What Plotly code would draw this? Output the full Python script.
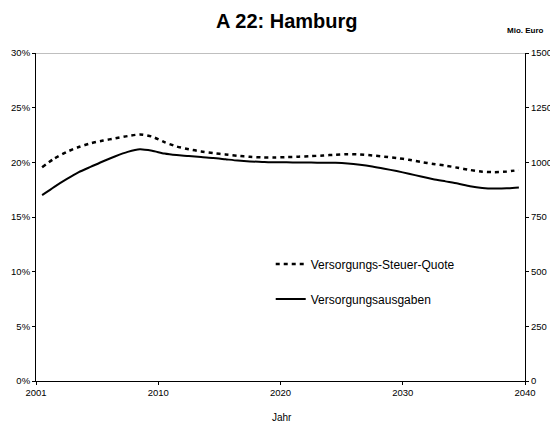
import plotly.graph_objects as go

years = list(range(2001, 2041))

# Versorgungs-Steuer-Quote (left axis, %)
quote = [19.55, 20.35, 20.95, 21.4, 21.75, 22.0, 22.2, 22.4, 22.55, 22.35,
         21.85, 21.45, 21.2, 21.0, 20.85, 20.72, 20.6, 20.5, 20.45, 20.45,
         20.48, 20.52, 20.57, 20.62, 20.7, 20.75, 20.72, 20.63, 20.52, 20.4,
         20.23, 20.03, 19.85, 19.7, 19.5, 19.3, 19.15, 19.1, 19.15, 19.3]

# Versorgungsausgaben (right axis, Mio. Euro)
ausgaben = [850, 888, 923, 955, 980, 1005, 1028, 1048, 1060, 1053,
            1040, 1033, 1029, 1024, 1020, 1014, 1008, 1004, 1002, 1000,
            1000, 999, 999, 998, 998, 995, 989, 981, 971, 960,
            948, 935, 923, 913, 903, 891, 883, 880, 881, 885]

left_ticks = [0, 5, 10, 15, 20, 25, 30]
left_labels = ["0%", "5%", "10%", "15%", "20%", "25%", "30%"]
right_ticks = [0, 250, 500, 750, 1000, 1250, 1500]
right_labels = ["0", "250", "500", "750", "1000", "1250", "1500"]
x_tickvals = [2000.5, 2010.5, 2020.5, 2030.5, 2040.5]
x_ticktext = ["2001", "2010", "2020", "2030", "2040"]

FONT = "Liberation Sans, Arial, sans-serif"

axis_common = dict(showline=True, linecolor="black", linewidth=1, showgrid=False,
                   zeroline=False, ticks="outside", ticklen=3, tickcolor="black",
                   automargin=False, tickfont=dict(family=FONT, size=9.5))

fig = go.Figure()
fig.add_trace(go.Scatter(
    x=years, y=quote, name="Versorgungs-Steuer-Quote", mode="lines",
    line=dict(color="black", width=2.5, dash="4px,4px", shape="spline", smoothing=0.6),
    legendgroup="a", yaxis="y"))
fig.add_trace(go.Scatter(
    x=years, y=ausgaben, name="Versorgungsausgaben", mode="lines",
    line=dict(color="black", width=2, shape="spline", smoothing=0.6),
    legendgroup="b", yaxis="y2"))

# The page adds an 8px body margin, so the figure is 8px smaller and offset.
fig.update_layout(
    width=550, height=415,
    margin=dict(l=28, r=33, t=45, b=42, autoexpand=False),
    paper_bgcolor="white", plot_bgcolor="white",
    font=dict(family=FONT, size=10, color="black"),
    showlegend=True,
    legend=dict(x=0.48, y=0.401, xanchor="left", yanchor="top",
                bgcolor="rgba(0,0,0,0)", font=dict(family=FONT, size=12),
                tracegroupgap=16, itemwidth=30),
    xaxis=dict(range=[2000.5, 2040.5], tickvals=x_tickvals, ticktext=x_ticktext,
               **axis_common),
    yaxis=dict(range=[0, 30], tickvals=left_ticks, ticktext=left_labels, **axis_common),
    yaxis2=dict(range=[0, 1500], tickvals=right_ticks, ticktext=right_labels,
                overlaying="y", side="right", **axis_common),
    shapes=[dict(type="line", xref="paper", x0=0, x1=1, yref="y", y0=30, y1=30,
                 line=dict(color="#808080", width=1))],
    annotations=[
        dict(text="<b>A 22: Hamburg</b>", xref="paper", yref="paper",
             x=(287 - 36) / 489, y=1, yshift=32, showarrow=False,
             xanchor="center", yanchor="middle", font=dict(size=20)),
        dict(text="<b>Mio. Euro</b>", xref="paper", yref="paper",
             x=1, y=1, yshift=23, showarrow=False,
             xanchor="center", yanchor="middle", font=dict(size=8)),
        dict(text="Jahr", xref="paper", yref="paper",
             x=(282 - 36) / 489, y=0, yshift=-36, showarrow=False,
             xanchor="center", yanchor="middle", font=dict(size=10)),
    ],
)

fig.write_html("out.html")
